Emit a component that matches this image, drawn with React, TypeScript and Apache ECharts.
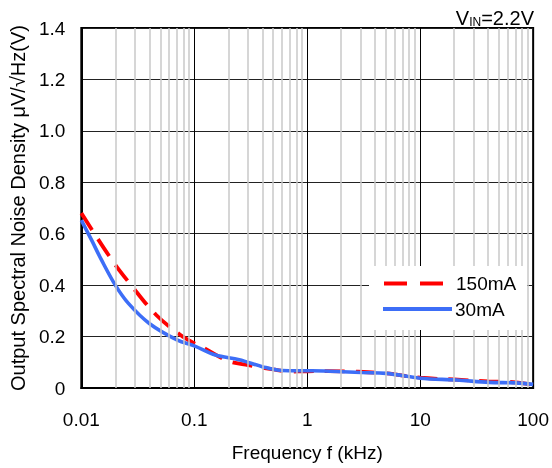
import React, { useEffect, useRef } from "react";
import * as echarts from "echarts";

const freq150 = [0.01, 0.0185, 0.0276, 0.0458, 0.076, 0.1, 0.126, 0.2, 0.3, 0.5, 0.7, 1, 1.5, 2.5, 5, 10, 20, 40, 70, 100];
const noise150 = [0.68, 0.5, 0.4, 0.285, 0.205, 0.174, 0.152, 0.105, 0.089, 0.072, 0.064, 0.065, 0.066, 0.064, 0.057, 0.04, 0.033, 0.026, 0.022, 0.012];

const freq30 = [0.01, 0.0125, 0.015, 0.02, 0.026, 0.04, 0.071, 0.1, 0.154, 0.25, 0.4, 0.6, 1, 1.4, 3, 5, 10, 21, 41, 70, 100];
const noise30 = [0.653, 0.57, 0.5, 0.4, 0.33, 0.251, 0.186, 0.164, 0.128, 0.11, 0.083, 0.068, 0.067, 0.066, 0.06, 0.057, 0.038, 0.031, 0.022, 0.02, 0.014];

const xTickLabels = ["0.01", "0.1", "1", "10", "100"];
const yTickLabels = ["0", "0.2", "0.4", "0.6", "0.8", "1.0", "1.2", "1.4"];
const minorFreqs = [
  0.02, 0.03, 0.04, 0.05, 0.06, 0.07, 0.08, 0.09,
  0.2, 0.3, 0.4, 0.5, 0.6, 0.7, 0.8, 0.9,
  2, 3, 4, 5, 6, 7, 8, 9,
  20, 30, 40, 50, 60, 70, 80, 90,
];
const seriesNames = ["150mA", "30mA"];

const FONT = "'Liberation Sans', Arial, sans-serif";
const RED = "#ff0000";
const BLUE = "#3d6ef7";

export default function App() {
  const ref = useRef<HTMLDivElement>(null);
  useEffect(() => {
    if (!ref.current) return;
    const chart = echarts.init(ref.current, undefined, { renderer: "svg" });
    const option: any = {
      animation: false,
      textStyle: { fontFamily: FONT },
      title: {
        text: "{v|V}{s|IN}{v|=2.2V}",
        right: 18,
        top: 6,
        padding: 0,
        textStyle: {
          fontWeight: "normal",
          rich: {
            v: { fontSize: 20, color: "#000", fontFamily: FONT, fontWeight: "normal", verticalAlign: "bottom", lineHeight: 22 },
            s: { fontSize: 12, color: "#000", fontFamily: FONT, fontWeight: "normal", verticalAlign: "bottom", lineHeight: 16 },
          },
        },
      },
      grid: { left: 78, top: 28, right: 18, bottom: 80, show: true, borderColor: "#000", borderWidth: 2, backgroundColor: "transparent" },
      xAxis: {
        type: "log",
        logBase: 10,
        min: 0.01,
        max: 100,
        axisLine: { show: true, lineStyle: { color: "#000", width: 2 } },
        axisTick: { show: false },
        axisLabel: {
          color: "#000",
          fontSize: 19,
          fontFamily: FONT,
          margin: 22,
          formatter: (v: number) => {
            const i = Math.round(Math.log10(v)) + 2;
            return xTickLabels[i] ?? "";
          },
        },
        splitLine: { show: true, lineStyle: { color: "#000", width: 1 } },
        name: "Frequency f (kHz)",
        nameLocation: "middle",
        nameGap: 55,
        nameTextStyle: { color: "#000", fontSize: 19, fontFamily: FONT },
      },
      yAxis: {
        type: "value",
        min: 0,
        max: 1.4,
        interval: 0.2,
        axisLine: { show: true, lineStyle: { color: "#000", width: 2 } },
        axisTick: { show: false },
        axisLabel: {
          color: "#000",
          fontSize: 19,
          fontFamily: FONT,
          margin: 16,
          formatter: (v: number) => yTickLabels[Math.round(v / 0.2)] ?? "",
        },
        splitLine: { show: true, lineStyle: { color: "#222", width: 1 } },
        name: "Output Spectral Noise Density μV/√Hz(V)",
        nameLocation: "middle",
        nameGap: 50,
        nameTextStyle: { color: "#000", fontSize: 20, fontFamily: FONT },
      },
      series: [
        {
          type: "line",
          name: "minor",
          data: [],
          z: 1,
          silent: true,
          markLine: {
            silent: true,
            symbol: "none",
            label: { show: false },
            lineStyle: { color: "#c8c8c8", width: 1.5, type: "solid" },
            data: minorFreqs.map((f) => ({ xAxis: f })),
          },
        },
        {
          type: "line",
          name: seriesNames[0],
          data: freq150.map((f, i) => [f, noise150[i]]),
          showSymbol: false,
          smooth: 0.35,
          z: 3,
          lineStyle: { color: RED, width: 3.8, type: [20, 11] },
        },
        {
          type: "line",
          name: seriesNames[1],
          data: freq30.map((f, i) => [f, noise30[i]]),
          showSymbol: false,
          smooth: 0.35,
          z: 4,
          lineStyle: { color: BLUE, width: 3.6 },
        },
      ],
      graphic: [
        { type: "rect", z: 10, shape: { x: 369, y: 266, width: 158, height: 64 }, style: { fill: "#fff" } },
        { type: "line", z: 11, shape: { x1: 384, y1: 283.5, x2: 443, y2: 283.5 }, style: { stroke: RED, lineWidth: 4, lineDash: [23, 13] } },
        { type: "text", z: 11, x: 456, y: 283.5, style: { text: seriesNames[0], fontSize: 19, fontFamily: FONT, fill: "#000", verticalAlign: "middle" } },
        { type: "line", z: 11, shape: { x1: 383, y1: 309, x2: 452, y2: 309 }, style: { stroke: BLUE, lineWidth: 4 } },
        { type: "text", z: 11, x: 455, y: 309, style: { text: seriesNames[1], fontSize: 19, fontFamily: FONT, fill: "#000", verticalAlign: "middle" } },
      ],
    };
    chart.setOption(option);
    return () => chart.dispose();
  }, []);
  return <div ref={ref} style={{ position: "fixed", left: 0, top: 0, width: 552, height: 468 }} />;
}
